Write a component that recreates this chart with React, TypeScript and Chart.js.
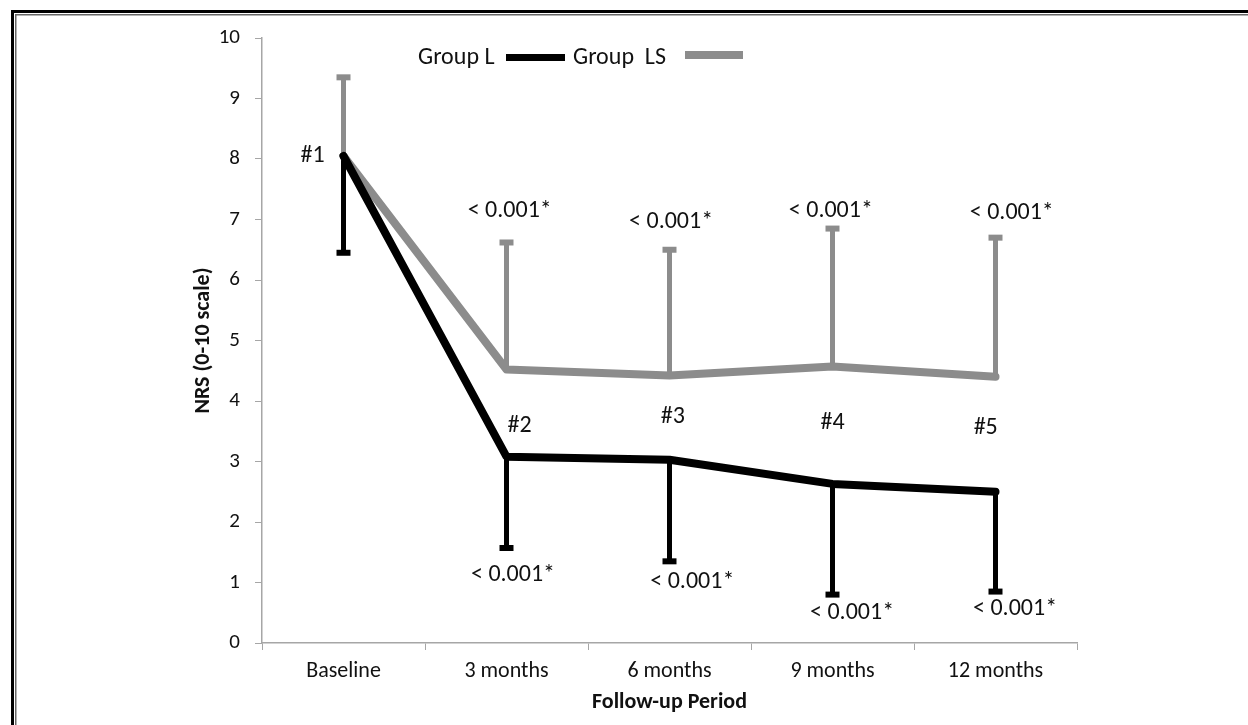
import React, { useEffect, useRef } from "react";
import { Chart, registerables } from "chart.js";

Chart.register(...registerables);

const categories = ["Baseline", "3 months", "6 months", "9 months", "12 months"];
const groupL = [8.05, 3.08, 3.03, 2.63, 2.5];
const groupLLower = [6.45, 1.57, 1.35, 0.8, 0.85];
const groupLS = [8.05, 4.52, 4.42, 4.57, 4.4];
const groupLSUpper = [9.35, 6.62, 6.5, 6.85, 6.7];

const markerLabels = ["#1", "#2", "#3", "#4", "#5"];
const markerPos = [-0.19, 1.08, 2.02, 3.0, 3.94];
const markerY = [8.05, 3.58, 3.74, 3.64, 3.55];

const pLabel = "< 0.001*";
const pUpperPos = [1.02, 2.01, 2.99, 4.1];
const pUpperY = [7.14, 6.96, 7.14, 7.11];
const pLowerPos = [1.04, 2.14, 3.12, 4.12];
const pLowerY = [1.12, 1.01, 0.5, 0.56];

const FONT = "Carlito, Lato, 'Open Sans', sans-serif";
const BLACK = "#000000";
const GRAY = "#8c8c8c";
const AXIS = "#a6a6a6";

const overlayPlugin = {
  id: "overlay",
  beforeDatasetsDraw(chart: any) {
    const ctx = chart.ctx;
    const xs = chart.scales.x;
    const ys = chart.scales.y;
    const drawBar = (i: number, from: number, to: number, color: string) => {
      const x = xs.getPixelForValue(i);
      const y1 = ys.getPixelForValue(from);
      const y2 = ys.getPixelForValue(to);
      ctx.save();
      ctx.strokeStyle = color;
      ctx.lineWidth = 5;
      ctx.beginPath();
      ctx.moveTo(x, y1);
      ctx.lineTo(x, y2);
      ctx.stroke();
      ctx.lineWidth = 6;
      ctx.beginPath();
      ctx.moveTo(x - 7, y2);
      ctx.lineTo(x + 7, y2);
      ctx.stroke();
      ctx.restore();
    };
    groupLS.forEach((v, i) => drawBar(i, v, groupLSUpper[i], GRAY));
    groupL.forEach((v, i) => drawBar(i, v, groupLLower[i], BLACK));
  },
  afterDraw(chart: any) {
    const ctx = chart.ctx;
    const xs = chart.scales.x;
    const ys = chart.scales.y;
    ctx.save();
    ctx.fillStyle = "#111";
    ctx.textAlign = "center";
    ctx.textBaseline = "middle";
    ctx.font = `24px ${FONT}`;
    markerLabels.forEach((t, i) => {
      ctx.fillText(t, xs.getPixelForValue(markerPos[i]), ys.getPixelForValue(markerY[i]));
    });
    pUpperPos.forEach((p, i) => {
      ctx.fillText(pLabel, xs.getPixelForValue(p), ys.getPixelForValue(pUpperY[i]));
    });
    pLowerPos.forEach((p, i) => {
      ctx.fillText(pLabel, xs.getPixelForValue(p), ys.getPixelForValue(pLowerY[i]));
    });

    // legend
    ctx.textAlign = "left";
    ctx.font = `24px ${FONT}`;
    ctx.fillText("Group L", 418, 58);
    ctx.strokeStyle = BLACK;
    ctx.lineWidth = 7;
    ctx.beginPath();
    ctx.moveTo(506, 57.5);
    ctx.lineTo(565, 57.5);
    ctx.stroke();
    ctx.fillText("Group  LS", 573, 58);
    ctx.strokeStyle = GRAY;
    ctx.lineWidth = 8;
    ctx.beginPath();
    ctx.moveTo(685, 55);
    ctx.lineTo(743, 55);
    ctx.stroke();

    // axis titles
    ctx.font = `bold 22px ${FONT}`;
    ctx.textAlign = "center";
    ctx.fillText("Follow-up Period", (chart.chartArea.left + chart.chartArea.right) / 2, 702);
    ctx.save();
    ctx.translate(203, (chart.chartArea.top + chart.chartArea.bottom) / 2);
    ctx.rotate(-Math.PI / 2);
    ctx.fillText("NRS (0-10 scale)", 0, 0);
    ctx.restore();

    // frame
    ctx.fillStyle = "#000";
    ctx.fillRect(11, 10, 1248 - 11, 3);
    ctx.fillRect(11, 10, 3, 725 - 10);
    ctx.fillStyle = "#666";
    ctx.fillRect(15, 14, 1248 - 15, 1.5);
    ctx.fillRect(15, 14, 1.5, 725 - 14);
    ctx.restore();
  },
};

export default function App() {
  const ref = useRef<HTMLCanvasElement | null>(null);
  useEffect(() => {
    document.body.style.margin = "0";
    if (!ref.current) return;
    const chart = new Chart(ref.current, {
      type: "line",
      data: {
        labels: categories,
        datasets: [
          {
            label: "Group L",
            data: groupL,
            borderColor: BLACK,
            borderWidth: 8,
            pointRadius: 0,
            tension: 0,
            borderJoinStyle: "round",
            borderCapStyle: "round",
          },
          {
            label: "Group  LS",
            data: groupLS,
            borderColor: GRAY,
            borderWidth: 8,
            pointRadius: 0,
            tension: 0,
            borderJoinStyle: "round",
            borderCapStyle: "round",
          },
        ],
      },
      options: {
        responsive: false,
        animation: false,
        devicePixelRatio: 1,
        layout: { padding: { left: 0, right: 171, top: 38, bottom: 0 } },
        plugins: { legend: { display: false }, tooltip: { enabled: false } },
        scales: {
          x: {
            offset: true,
            grid: {
              offset: true,
              drawOnChartArea: false,
              tickLength: 7,
              color: AXIS,
              tickColor: AXIS,
            },
            border: { color: AXIS, width: 1.5 },
            ticks: { color: "#111", font: { family: FONT, size: 22 }, padding: 8 },
            afterFit: (s: any) => {
              s.height = 82;
            },
          },
          y: {
            min: 0,
            max: 10,
            ticks: { stepSize: 1, color: "#111", font: { family: FONT, size: 21 }, padding: 15 },
            grid: { drawOnChartArea: false, tickLength: 7, color: AXIS, tickColor: AXIS },
            border: { color: AXIS, width: 1.5 },
            afterFit: (s: any) => {
              s.width = 262;
            },
          },
        },
      },
      plugins: [overlayPlugin],
    });
    return () => chart.destroy();
  }, []);
  return (
    <div style={{ width: 1248, height: 725, position: "relative", background: "#fff" }}>
      <canvas ref={ref} width={1248} height={725} />
    </div>
  );
}
